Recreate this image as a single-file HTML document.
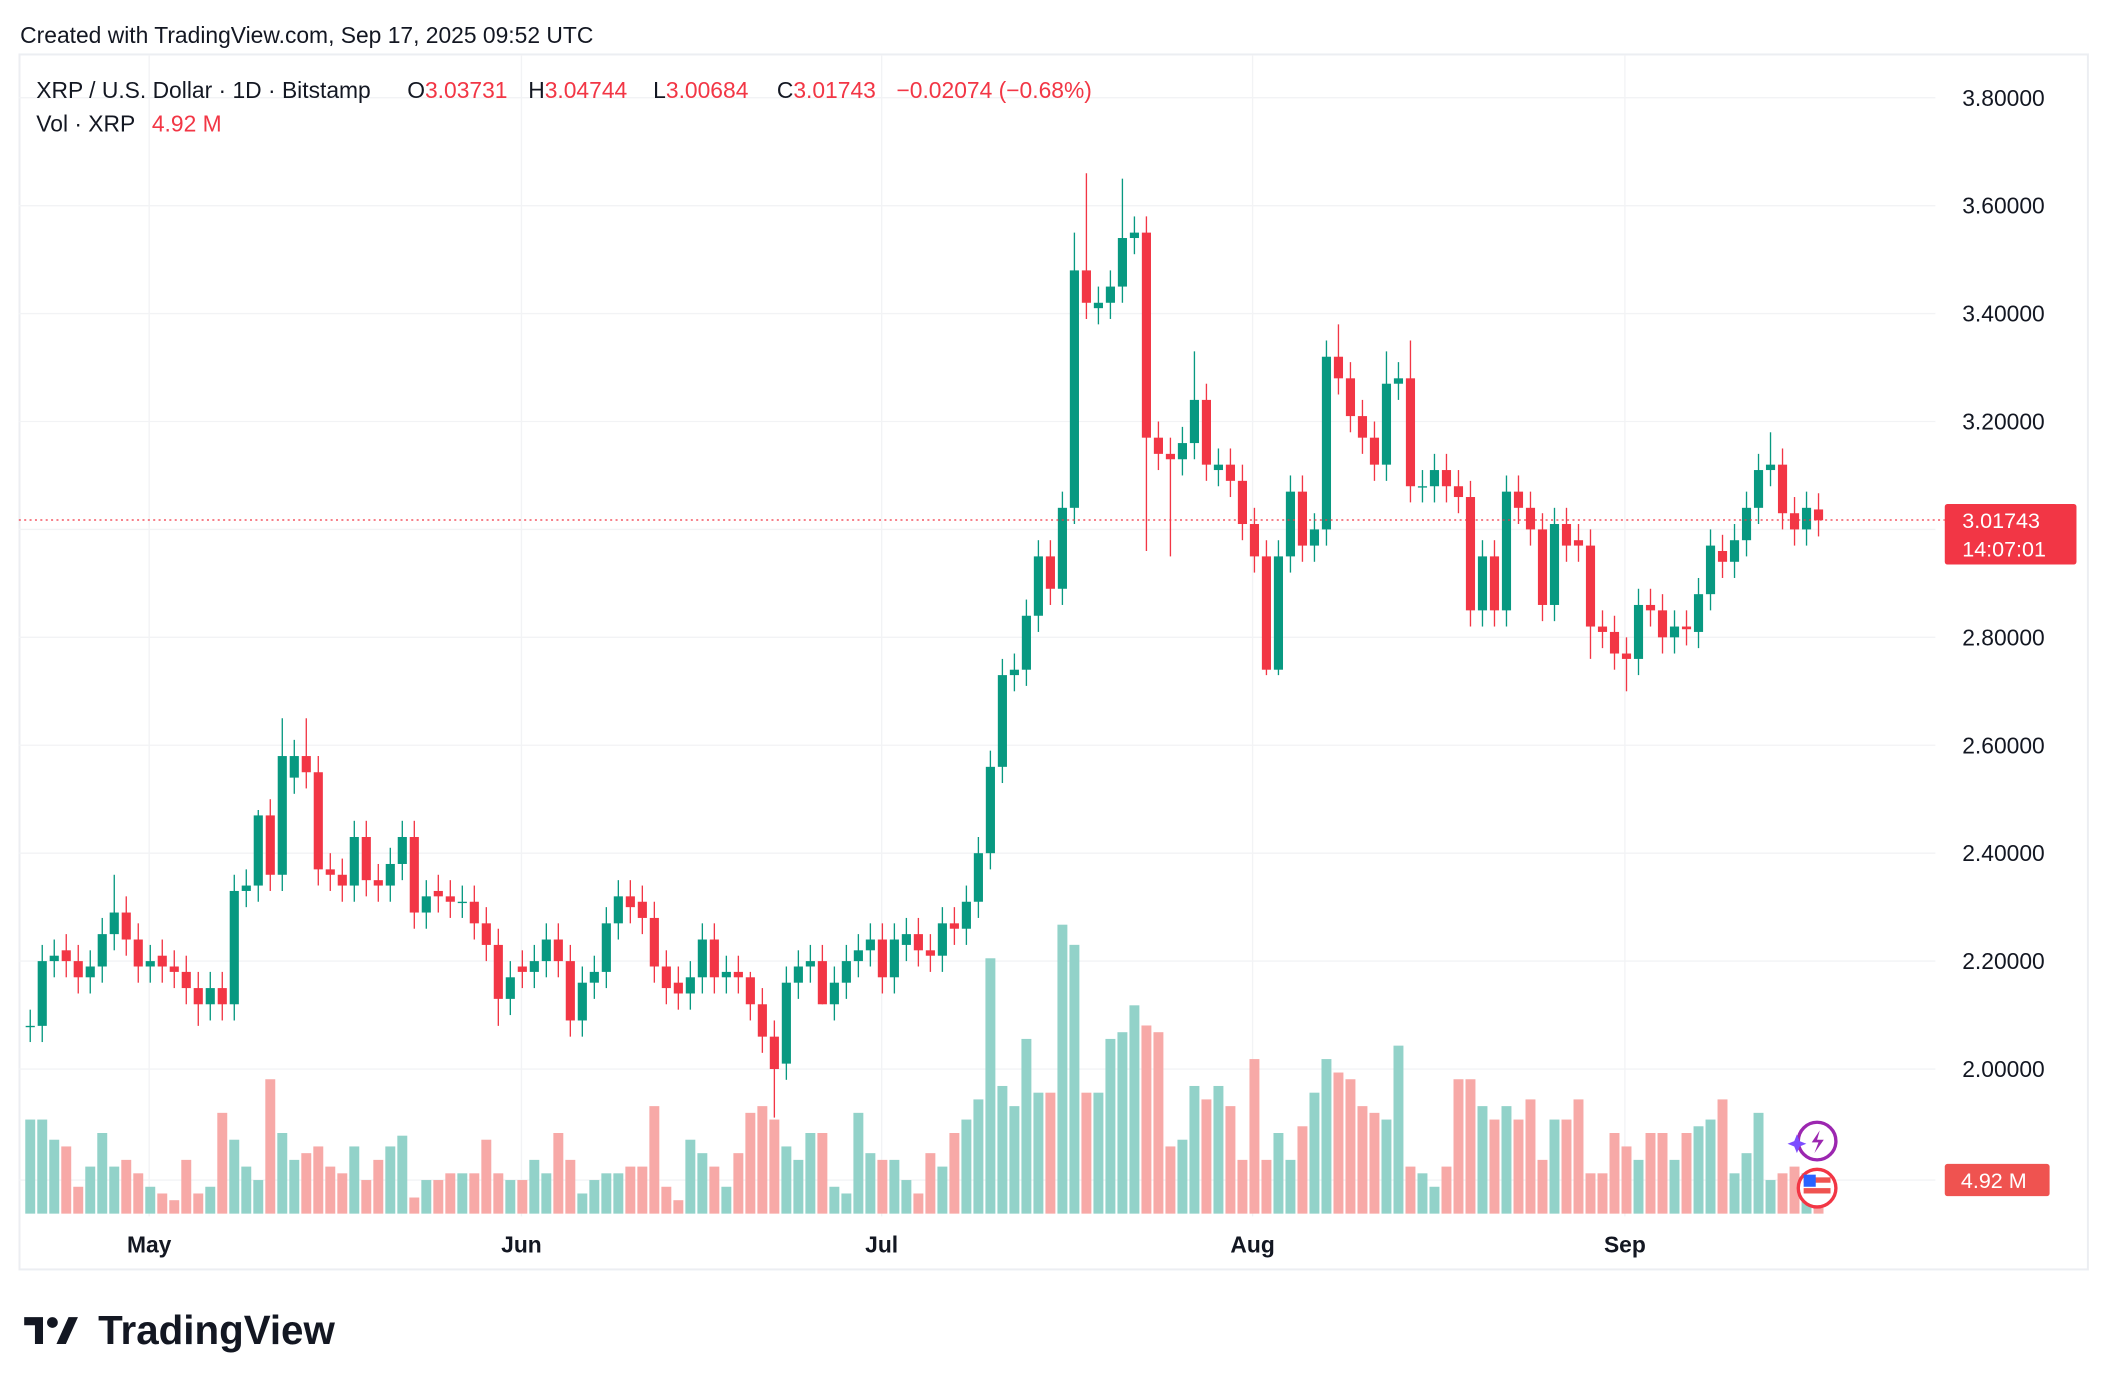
<!DOCTYPE html>
<html><head><meta charset="utf-8"><style>
html,body{margin:0;padding:0;background:#fff;}
svg{display:block;font-family:"Liberation Sans",sans-serif;}
</style></head><body>
<svg id="s" width="2108" height="1392" viewBox="0 0 1568.45 1035.7" xmlns="http://www.w3.org/2000/svg">
<rect width="1568.45" height="1035.7" fill="#fff"/>
<text x="15" y="32" font-size="17" fill="#131722">Created with TradingView.com, Sep 17, 2025 09:52 UTC</text>
<rect x="14.5" y="40.5" width="1539" height="904" fill="none" stroke="#eceef2" stroke-width="1.5"/>
<g id="grid" stroke="#f2f3f5" stroke-width="1"></g>
<g id="vol"></g>
<g id="candles"></g>
<line x1="14" x2="1447" y1="386.9" y2="386.9" stroke="#f23645" stroke-width="1" stroke-dasharray="1.5,2.5"/>
<g id="axis" font-size="17" fill="#131722"></g>
<text x="1460" y="884" font-size="17" fill="#131722">1.80000</text>
<rect x="1447" y="375" width="98" height="45" rx="2" fill="#f23645"/>
<text x="1460" y="393" font-size="16" fill="#fff">3.01743</text>
<text x="1460" y="414" font-size="16" fill="#fff">14:07:01</text>
<rect x="1447" y="866" width="78" height="24" rx="2" fill="#ef5350"/>
<text x="1459" y="884" font-size="16" fill="#fff">4.92 M</text>
<circle cx="1352" cy="849" r="14" fill="#fff" stroke="#9c27b0" stroke-width="2.5"/>
<path d="M1354 841 l-6 9 h5 l-3 8 l7 -10 h-5 z" fill="#9c27b0"/>
<path d="M1337 844 l2 5 l5 2 l-5 2 l-2 5 l-2 -5 l-5 -2 l5 -2 z" fill="#7c4dff"/>
<circle cx="1352" cy="884" r="14" fill="#fff" stroke="#f23645" stroke-width="2.5"/>
<rect x="1342" y="876" width="20" height="4" fill="#ef5350"/><rect x="1342" y="884" width="20" height="4" fill="#ef5350"/>
<rect x="1342" y="874" width="9" height="9" fill="#2962ff"/>
<g font-size="17" fill="#131722">
<text x="27" y="73">XRP / U.S. Dollar · 1D · Bitstamp</text>
<text x="303" y="73">O<tspan fill="#f23645">3.03731</tspan></text>
<text x="393" y="73">H<tspan fill="#f23645">3.04744</tspan></text>
<text x="486" y="73">L<tspan fill="#f23645">3.00684</tspan></text>
<text x="578" y="73">C<tspan fill="#f23645">3.01743</tspan></text>
<text x="667" y="73" fill="#f23645">−0.02074 (−0.68%)</text>
<text x="27" y="98">Vol · XRP</text>
<text x="113" y="98" fill="#f23645">4.92 M</text>
</g>
<g id="months" font-size="17" font-weight="bold" fill="#131722"></g>
<g transform="translate(18,978)">
<path d="M0 2 h14 v20 h-6 v-14 h-8 z" fill="#131722"/>
<circle cx="21" cy="6" r="4" fill="#131722"/>
<path d="M24 22 l9 -20 h7 l-9 20 z" fill="#131722"/>
</g>
<text x="73" y="1000" font-size="30" font-weight="bold" fill="#131722">TradingView</text>
</svg>
<script>
var NS="http://www.w3.org/2000/svg";
function el(p,t,a,txt){var e=document.createElementNS(NS,t);for(var k in a)e.setAttribute(k,a[k]);if(txt!=null)e.textContent=txt;document.getElementById(p).appendChild(e);return e;}
function Y(p){return 72.7+(3.8-p)/0.2*80.3;}
for(var i=0;i<10;i++){var p=3.8-0.2*i;el("grid","line",{x1:14,x2:1440,y1:Y(p),y2:Y(p)});el("axis","text",{x:1460,y:Y(p)+6},p.toFixed(5));}
el("grid","line",{x1:14,x2:1440,y1:878,y2:878});
var mx=[[111,"May"],[388,"Jun"],[656,"Jul"],[932,"Aug"],[1209,"Sep"]];
mx.forEach(function(m){el("grid","line",{x1:m[0],x2:m[0],y1:41,y2:905});el("months","text",{x:m[0],y:932,"text-anchor":"middle"},m[1]);});
var oc=[[2.08,2.08],[2.08,2.20],[2.20,2.21],[2.22,2.20],[2.20,2.17],[2.17,2.19],[2.19,2.25],[2.25,2.29],[2.29,2.24],[2.24,2.19],[2.19,2.20],[2.21,2.19],[2.19,2.18],[2.18,2.15],[2.15,2.12],[2.12,2.15],[2.15,2.12],[2.12,2.33],[2.33,2.34],[2.34,2.47],[2.47,2.36],[2.36,2.58],[2.54,2.58],[2.58,2.55],[2.55,2.37],[2.37,2.36],[2.36,2.34],[2.34,2.43],[2.43,2.35],[2.35,2.34],[2.34,2.38],[2.38,2.43],[2.43,2.29],[2.29,2.32],[2.33,2.32],[2.32,2.31],[2.31,2.31],[2.31,2.27],[2.27,2.23],[2.23,2.13],[2.13,2.17],[2.19,2.18],[2.18,2.20],[2.20,2.24],[2.24,2.20],[2.20,2.09],[2.09,2.16],[2.16,2.18],[2.18,2.27],[2.27,2.32],[2.32,2.30],[2.31,2.28],[2.28,2.19],[2.19,2.15],[2.16,2.14],[2.14,2.17],[2.17,2.24],[2.24,2.17],[2.17,2.18],[2.18,2.17],[2.17,2.12],[2.12,2.06],[2.06,2.00],[2.01,2.16],[2.16,2.19],[2.19,2.20],[2.20,2.12],[2.12,2.16],[2.16,2.20],[2.20,2.22],[2.22,2.24],[2.24,2.17],[2.17,2.24],[2.23,2.25],[2.25,2.22],[2.22,2.21],[2.21,2.27],[2.27,2.26],[2.26,2.31],[2.31,2.40],[2.40,2.56],[2.56,2.73],[2.73,2.74],[2.74,2.84],[2.84,2.95],[2.95,2.89],[2.89,3.04],[3.04,3.48],[3.48,3.42],[3.41,3.42],[3.42,3.45],[3.45,3.54],[3.54,3.55],[3.55,3.17],[3.17,3.14],[3.14,3.13],[3.13,3.16],[3.16,3.24],[3.24,3.12],[3.11,3.12],[3.12,3.09],[3.09,3.01],[3.01,2.95],[2.95,2.74],[2.74,2.95],[2.95,3.07],[3.07,2.97],[2.97,3.00],[3.00,3.32],[3.32,3.28],[3.28,3.21],[3.21,3.17],[3.17,3.12],[3.12,3.27],[3.27,3.28],[3.28,3.08],[3.08,3.08],[3.08,3.11],[3.11,3.08],[3.08,3.06],[3.06,2.85],[2.85,2.95],[2.95,2.85],[2.85,3.07],[3.07,3.04],[3.04,3.00],[3.00,2.86],[2.86,3.01],[3.01,2.97],[2.98,2.97],[2.97,2.82],[2.82,2.81],[2.81,2.77],[2.77,2.76],[2.76,2.86],[2.86,2.85],[2.85,2.80],[2.80,2.82],[2.82,2.815],[2.81,2.88],[2.88,2.97],[2.96,2.94],[2.94,2.98],[2.98,3.04],[3.04,3.11],[3.11,3.12],[3.12,3.03],[3.03,3.00],[3.00,3.04],[3.037,3.017]];
var hi={7:2.36,21:2.65,23:2.65,19:2.48,87:3.55,88:3.66,91:3.65,92:3.58,97:3.33,108:3.35,109:3.38,113:3.33,115:3.35,145:3.18,60:2.18};
var lo={62:1.91,93:2.96,95:2.95,103:2.73,104:2.73,133:2.70,120:2.82,130:2.76,45:2.06,39:2.08,14:2.08,66:2.12};
var vh=[25,70,70,55,50,20,35,60,35,40,30,20,15,10,40,15,20,75,55,35,25,100,60,40,45,50,35,30,50,25,40,50,58,12,25,25,30,30,30,55,30,25,25,40,30,60,40,15,25,30,30,35,35,80,20,10,55,45,35,20,45,75,80,70,50,40,60,60,20,15,75,45,40,40,25,15,45,35,60,70,85,190,95,80,130,90,90,215,200,90,90,130,135,155,140,135,50,55,95,85,95,80,40,115,40,60,40,65,90,115,105,100,80,75,70,125,35,30,20,35,100,100,80,70,80,70,85,40,70,70,85,30,30,60,50,40,60,60,40,60,65,70,85,30,45,75,25,30,35,30,30,40,70,70,75,75,70,70];
for(var i=0;i<oc.length;i++){
 var x=22.5+i*8.93,o=oc[i][0],c=oc[i][1],up=c>=o;
 var col=up?"#089981":"#f23645";
 var h=hi[i]||Math.max(o,c)+0.03,l=lo[i]||Math.min(o,c)-0.03;
 el("candles","line",{x1:x,x2:x,y1:Y(h),y2:Y(l),stroke:col,"stroke-width":1});
 var t=Y(Math.max(o,c)),b=Y(Math.min(o,c));
 el("candles","rect",{x:x-3.4,y:t,width:6.8,height:Math.max(1,b-t),fill:col});
 var v=vh[Math.min(i+1,vh.length-1)];
 el("vol","rect",{x:x-3.7,y:903-v,width:7.4,height:v,fill:up?"#92d2c9":"#f7a9a7"});
}
</script>
</body></html>
